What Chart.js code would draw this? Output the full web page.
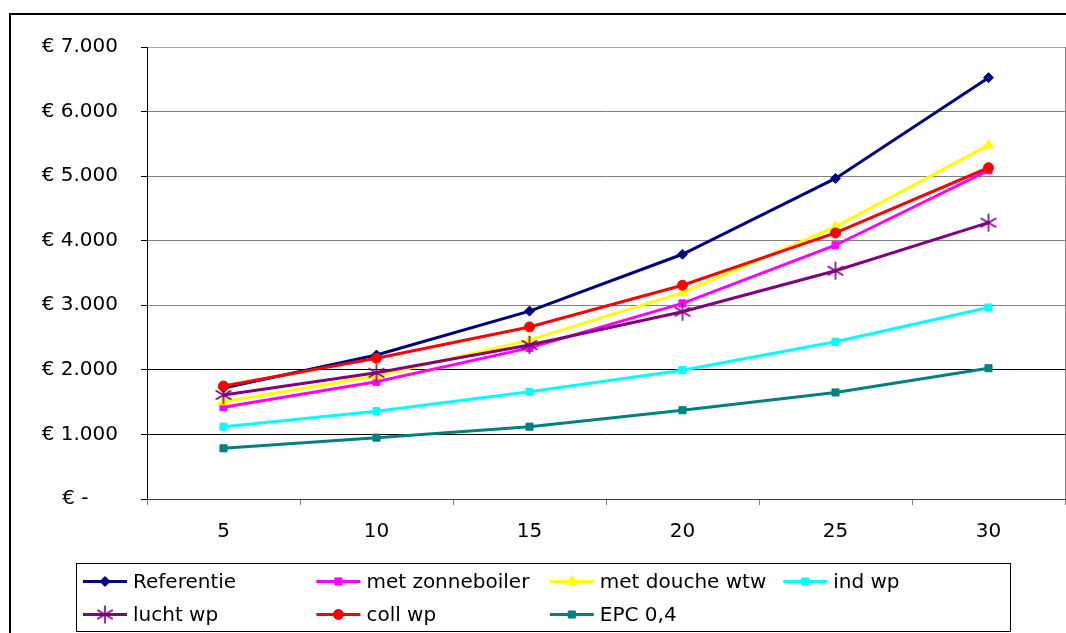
<!DOCTYPE html>
<html>
<head>
<meta charset="utf-8">
<script src="https://cdn.jsdelivr.net/npm/chart.js@4"></script>
<style>
  html, body { margin: 0; padding: 0; background: #fff; }
  #wrap { width: 1066px; height: 633px; position: relative; }
</style>
</head>
<body>
<div id="wrap"><canvas id="c" width="1066" height="633"></canvas></div>
<script>
// Years on the horizontal axis
const years = ['5', '10', '15', '20', '25', '30'];

// Cumulative costs per scenario (euro)
const referentie     = [1720, 2230, 2910, 3790, 4965, 6525];
const metZonneboiler = [1420, 1815, 2340, 3030, 3930, 5090];
const metDoucheWtw   = [1505, 1905, 2460, 3195, 4215, 5480];
const indWp          = [1120, 1360, 1660, 1995, 2435, 2965];
const luchtWp        = [1610, 1955, 2385, 2900, 3535, 4280];
const collWp         = [1750, 2180, 2665, 3310, 4120, 5130];
const epc04          = [785, 950, 1120, 1375, 1650, 2025];

// Euro axis ticks
const yTicks = [0, 1000, 2000, 3000, 4000, 5000, 6000, 7000];

const FONT = 'DejaVu Sans, Verdana, sans-serif';

// Asterisk marker (three crossing strokes)
function asterisk(color, size) {
  const cv = document.createElement('canvas');
  cv.width = size; cv.height = size;
  const g = cv.getContext('2d');
  g.strokeStyle = color;
  g.lineWidth = 1.6;
  const c = size / 2, r = size / 2 - 1;
  g.beginPath();
  g.moveTo(c, c - r); g.lineTo(c, c + r);
  const dx = r * Math.cos(Math.PI / 6), dy = r * Math.sin(Math.PI / 6);
  g.moveTo(c - dx, c - dy); g.lineTo(c + dx, c + dy);
  g.moveTo(c - dx, c + dy); g.lineTo(c + dx, c - dy);
  g.stroke();
  return cv;
}

function series(label, data, color, style, radius) {
  return {
    label, data,
    borderColor: color,
    backgroundColor: color,
    pointBackgroundColor: color,
    pointBorderColor: color,
    borderWidth: 3,
    pointStyle: style,
    pointRadius: radius,
    pointHoverRadius: radius,
    pointBorderWidth: 1,
    tension: 0
  };
}

const datasets = [
  series('Referentie', referentie, '#000080', 'rectRot', 5),
  series('met zonneboiler', metZonneboiler, '#FF00FF', 'rect', 5),
  series('met douche wtw', metDoucheWtw, '#FFFF00', 'triangle', 6),
  series('ind wp', indWp, '#00FFFF', 'rect', 5),
  series('lucht wp', luchtWp, '#800080', asterisk('#800080', 20), 9),
  series('coll wp', collWp, '#FF0000', 'circle', 5),
  series('EPC 0,4', epc04, '#008080', 'rect', 5)
];
// later series are painted over earlier ones
datasets.forEach((d, i) => { d.order = datasets.length - i; });

function euro(v) {
  if (v === 0) return '€ -\u2007\u2007\u2009';
  return '€ ' + v.toLocaleString('de-DE');
}

// Frame around the whole chart and right edge of the plot area
const framePlugin = {
  id: 'frame',
  afterDraw(chart) {
    const ctx = chart.ctx, a = chart.chartArea;
    ctx.save();
    ctx.strokeStyle = '#808080';
    ctx.lineWidth = 1;
    ctx.beginPath();
    ctx.moveTo(a.right + 0.5, a.top);
    ctx.lineTo(a.right + 0.5, a.bottom);
    ctx.stroke();
    ctx.strokeStyle = '#000';
    ctx.lineWidth = 2;
    ctx.beginPath();
    ctx.moveTo(10, chart.height);
    ctx.lineTo(10, 14);
    ctx.lineTo(chart.width, 14);
    ctx.stroke();
    ctx.restore();
  }
};

// Boxed legend laid out in fixed columns
const legendBox = {
  id: 'legendBox',
  afterDraw(chart) {
    const ctx = chart.ctx;
    ctx.save();
    ctx.strokeStyle = '#000';
    ctx.lineWidth = 1;
    ctx.strokeRect(76.5, 563.5, 934, 68);
    ctx.font = '20px ' + FONT;
    ctx.textBaseline = 'middle';
    ctx.textAlign = 'left';
    chart.data.datasets.forEach((ds, i) => {
      const col = i % 4, row = Math.floor(i / 4);
      const tx = 133 + col * 233.4;
      const y = 581.5 + row * 33;
      ctx.strokeStyle = ds.borderColor;
      ctx.lineWidth = 3;
      ctx.beginPath();
      ctx.moveTo(tx - 50, y);
      ctx.lineTo(tx - 6, y);
      ctx.stroke();
      ctx.fillStyle = ds.pointBackgroundColor;
      ctx.strokeStyle = ds.pointBorderColor;
      ctx.lineWidth = 1;
      Chart.helpers.drawPoint(ctx, {
        pointStyle: ds.pointStyle, radius: ds.pointRadius, rotation: 0, borderWidth: 1
      }, tx - 28, y);
      ctx.fillStyle = '#000';
      ctx.fillText(ds.label, tx, y + 1);
    });
    ctx.restore();
  }
};

new Chart(document.getElementById('c'), {
  type: 'line',
  data: { labels: years, datasets },
  options: {
    responsive: false,
    animation: false,
    events: [],
    layout: { autoPadding: false, padding: { top: 47, right: 1, bottom: 0, left: 0 } },
    plugins: { legend: { display: false }, tooltip: { enabled: false } },
    scales: {
      x: {
        type: 'category',
        offset: true,
        afterFit(s) { s.height = 134; },
        grid: {
          offset: true,
          drawOnChartArea: false,
          drawTicks: true,
          tickLength: 6,
          color: '#808080'
        },
        border: { display: true, color: '#404040', width: 1 },
        ticks: {
          color: '#000',
          padding: 15,
          font: { family: FONT, size: 20 },
          maxRotation: 0
        }
      },
      y: {
        min: 0,
        max: 7000,
        afterFit(s) { s.width = 147; },
        afterBuildTicks(s) { s.ticks = yTicks.map(v => ({ value: v })); },
        grid: {
          color(ctx) {
            const v = ctx.tick ? ctx.tick.value : 0;
            if (v === 7000) return '#a6a6a6';
            if (v >= 3000) return '#808080';
            return '#000';
          },
          tickColor: '#000',
          tickLength: 6,
          lineWidth: 1
        },
        border: { display: true, color: '#000', width: 1 },
        ticks: {
          color: '#000',
          padding: 23,
          font: { family: FONT, size: 20 },
          callback: (v) => euro(v)
        }
      }
    }
  },
  plugins: [framePlugin, legendBox]
});
</script>
</body>
</html>
